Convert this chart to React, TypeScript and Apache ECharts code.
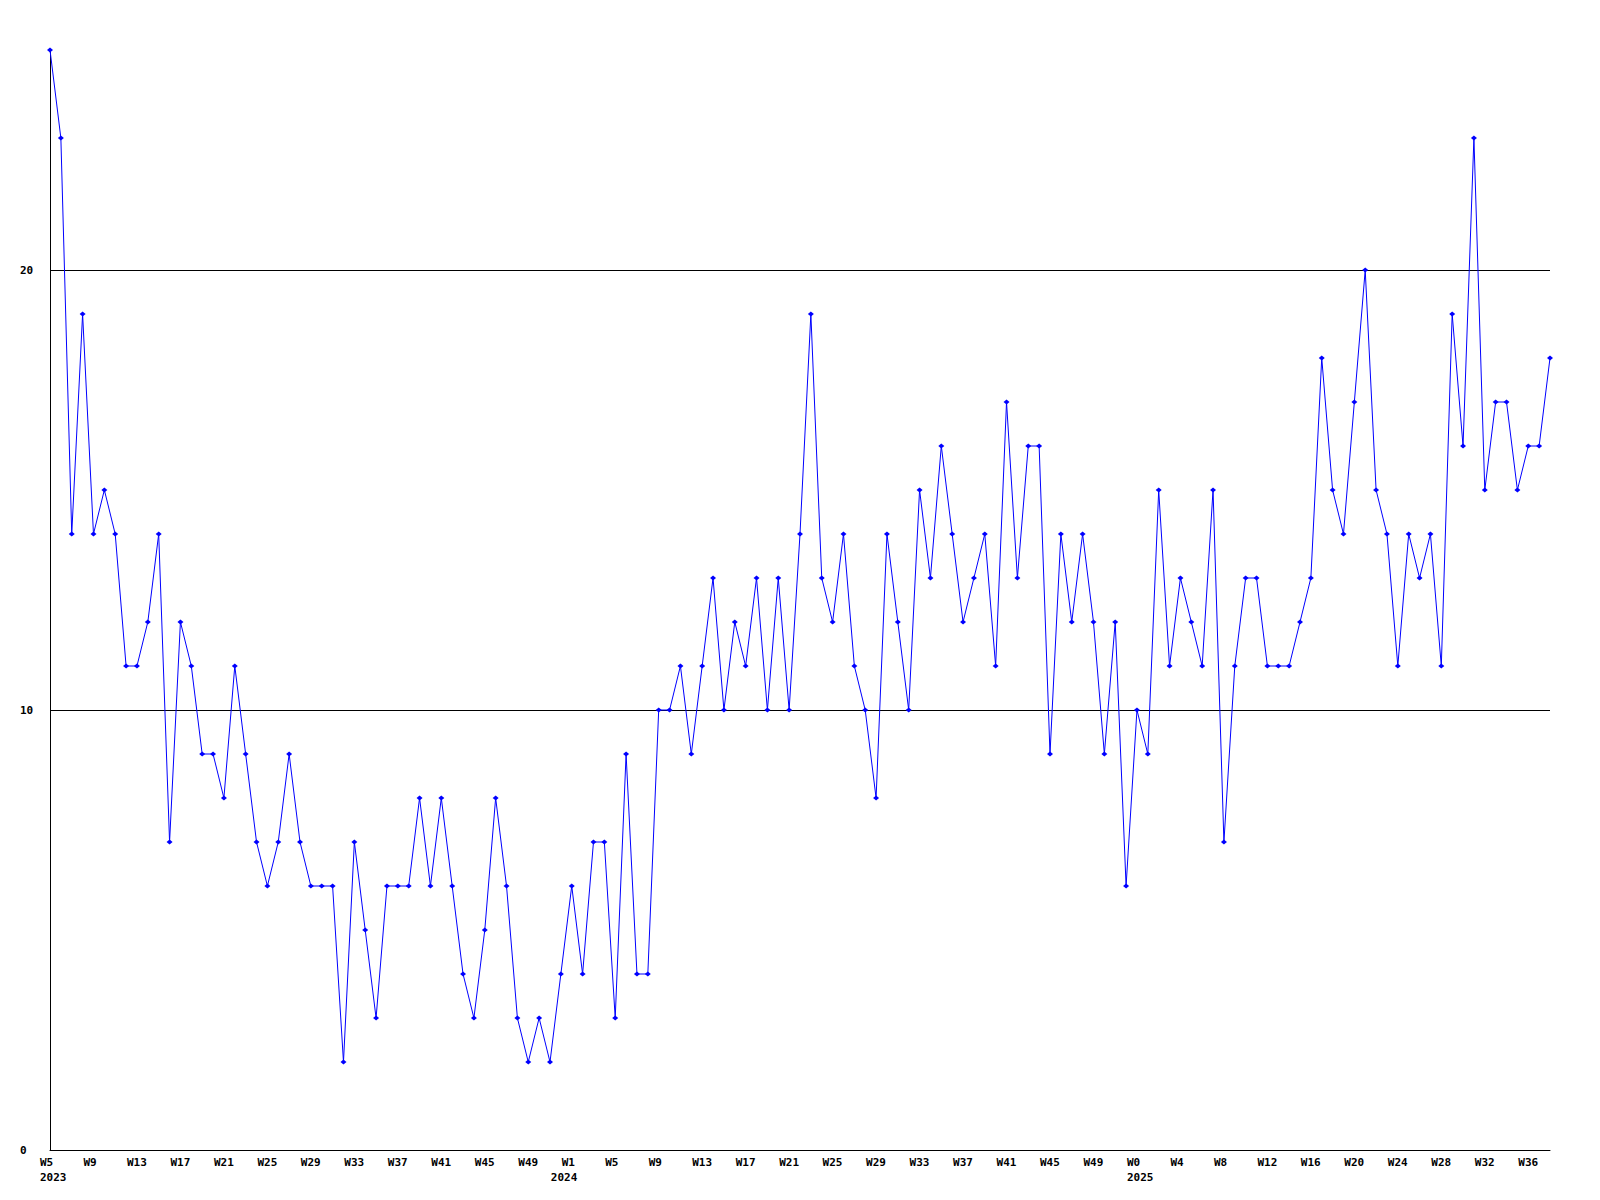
import React, { useEffect, useRef } from "react";
import * as echarts from "echarts";

// Week ranges per year (first week, last week)
const years = [2023, 2024, 2025];
const weekRanges: [number, number][] = [
  [5, 52],
  [1, 52],
  [0, 38],
];
// Category under which each year's label is printed
const yearLabelAt = ["2023-W5", "2023-W52", "2025-W0"];

const values2023 = [
  25, 23, 14, 19, 14, 15, 14, 11, 11, 12, 14, 7, 12, 11, 9, 9, 8, 11, 9, 7, 6, 7, 9, 7,
  6, 6, 6, 2, 7, 5, 3, 6, 6, 6, 8, 6, 8, 6, 4, 3, 5, 8, 6, 3, 2, 3, 2, 4,
];
const values2024 = [
  6, 4, 7, 7, 3, 9, 4, 4, 10, 10, 11, 9, 11, 13, 10, 12, 11, 13, 10, 13, 10, 14, 19, 13,
  12, 14, 11, 10, 8, 14, 12, 10, 15, 13, 16, 14, 12, 13, 14, 11, 17, 13, 16, 16, 9, 14,
  12, 14, 12, 9, 12, 6,
];
const values2025 = [
  10, 9, 15, 11, 13, 12, 11, 15, 7, 11, 13, 13, 11, 11, 11, 12, 13, 18, 15, 14, 17, 20,
  15, 14, 11, 14, 13, 14, 11, 19, 16, 23, 15, 17, 17, 15, 16, 16, 18,
];

const gridLines = [10, 20];

export default function App() {
  const ref = useRef<HTMLDivElement>(null);

  useEffect(() => {
    if (!ref.current) return;
    const chart = echarts.init(ref.current, null, { renderer: "svg" });

    const keys: string[] = [];
    const categories: string[] = [];
    years.forEach((y, k) => {
      const [a, b] = weekRanges[k];
      for (let w = a; w <= b; w++) {
        keys.push(y + "-W" + w);
        categories.push("W" + w);
      }
    });
    const yearAtIndex: Record<number, number> = {};
    yearLabelAt.forEach((key, k) => {
      yearAtIndex[keys.indexOf(key)] = years[k];
    });
    const values = [...values2023, ...values2024, ...values2025];

    const font = "'DejaVu Sans Mono', monospace";

    chart.setOption({
      animation: false,
      backgroundColor: "#ffffff",
      grid: { left: 50, right: 50, top: 50, bottom: 50 },
      xAxis: {
        type: "category",
        data: categories,
        boundaryGap: false,
        axisLine: { show: true, lineStyle: { color: "#000", width: 1 } },
        axisTick: { show: false },
        splitLine: { show: false },
        axisLabel: {
          interval: (i: number) => i % 4 === 0 || yearAtIndex[i] !== undefined,
          align: "left",
          margin: 5,
          padding: [0, 0, 0, -10],
          lineHeight: 15,
          color: "#000",
          fontFamily: font,
          fontWeight: "bold",
          fontSize: 11,
          formatter: (v: string, i: number) => {
            const wk = i % 4 === 0 ? v : " ";
            return yearAtIndex[i] !== undefined ? wk + "\n" + yearAtIndex[i] : wk;
          },
        },
      },
      yAxis: {
        type: "value",
        min: 0,
        max: 25,
        interval: 10,
        axisLine: { show: true, lineStyle: { color: "#000", width: 1 } },
        axisTick: { show: false },
        splitLine: { show: false },
        axisLabel: {
          showMaxLabel: false,
          align: "left",
          margin: 30,
          color: "#000",
          fontFamily: font,
          fontWeight: "bold",
          fontSize: 11,
        },
      },
      series: [
        {
          type: "line",
          data: values,
          symbol: "diamond",
          symbolSize: [6, 5],
          showSymbol: true,
          lineStyle: { color: "#0000ff", width: 1 },
          itemStyle: { color: "#0000ff" },
          emphasis: { disabled: true },
          markLine: {
            silent: true,
            symbol: "none",
            label: { show: false },
            lineStyle: { color: "#000", width: 1, type: "solid" },
            data: gridLines.map((g) => ({ yAxis: g })),
            z: 1,
          },
          z: 3,
        },
      ],
    });

    return () => chart.dispose();
  }, []);

  return (
    <div
      ref={ref}
      style={{ position: "fixed", left: 0, top: 0, width: 1600, height: 1200, background: "#fff" }}
    />
  );
}
